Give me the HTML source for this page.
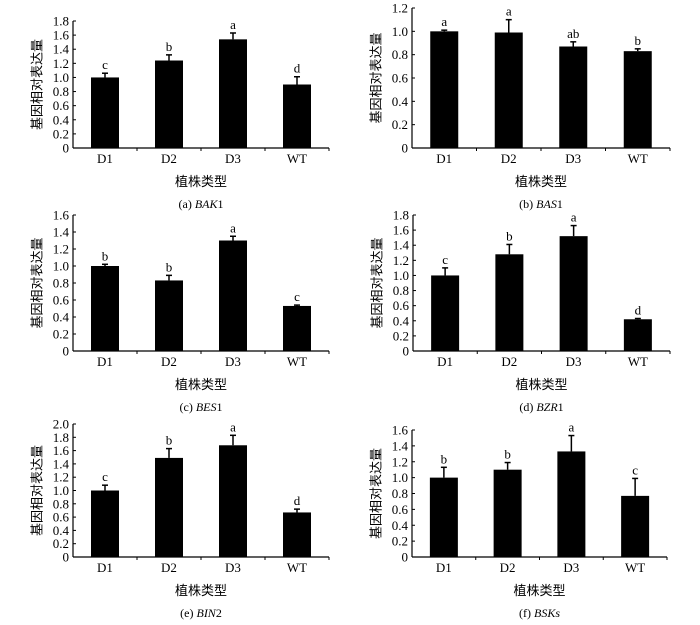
<!DOCTYPE html>
<html><head><meta charset="utf-8">
<style>
body{margin:0;background:#fff;}
svg{display:block;}
text{font-family:"Liberation Serif","Noto Serif CJK SC",serif;fill:#000;}
.cjk{font-family:"Liberation Sans","Noto Sans CJK SC",sans-serif;}
</style></head>
<body>
<svg id="fig" width="700" height="625" viewBox="0 0 700 625"></svg>
<script>
const categories = ["D1","D2","D3","WT"];
const valuesA = [1.0,1.24,1.54,0.9];
const errorsA = [0.06,0.08,0.09,0.11];
const lettersA = ["c","b","a","d"];
const ticksA = ["0","0.2","0.4","0.6","0.8","1.0","1.2","1.4","1.6","1.8"];
const valuesB = [1.0,0.99,0.87,0.83];
const errorsB = [0.01,0.11,0.04,0.02];
const lettersB = ["a","a","ab","b"];
const ticksB = ["0","0.2","0.4","0.6","0.8","1.0","1.2"];
const valuesC = [1.0,0.83,1.3,0.53];
const errorsC = [0.02,0.06,0.05,0.01];
const lettersC = ["b","b","a","c"];
const ticksC = ["0","0.2","0.4","0.6","0.8","1.0","1.2","1.4","1.6"];
const valuesD = [1.0,1.28,1.52,0.42];
const errorsD = [0.1,0.13,0.14,0.01];
const lettersD = ["c","b","a","d"];
const ticksD = ["0","0.2","0.4","0.6","0.8","1.0","1.2","1.4","1.6","1.8"];
const valuesE = [1.0,1.49,1.68,0.67];
const errorsE = [0.08,0.14,0.15,0.05];
const lettersE = ["c","b","a","d"];
const ticksE = ["0","0.2","0.4","0.6","0.8","1.0","1.2","1.4","1.6","1.8","2.0"];
const valuesF = [1.0,1.1,1.33,0.77];
const errorsF = [0.13,0.09,0.2,0.22];
const lettersF = ["b","b","a","c"];
const ticksF = ["0","0.2","0.4","0.6","0.8","1.0","1.2","1.4","1.6"];

const svg = document.getElementById('fig');
const NS = 'http://www.w3.org/2000/svg';
function mk(tag, attrs, parent){
  const e = document.createElementNS(NS, tag);
  for (const k in attrs) e.setAttribute(k, attrs[k]);
  parent.appendChild(e);
  return e;
}
function panel(id, x0, top, base, right, values, errors, letters, ticks, tag, gene, italicPart, plainPart){
  const g = mk('g', {}, svg);
  
  
  const maxV = parseFloat(ticks[ticks.length-1]);
  const y = v => base - (v / maxV) * (base - top);
  const cw = (right - x0) / categories.length;
  const xc = i => x0 + cw * (i + 0.5);
  const bw = 28;
  // axes
  const ya = mk('line', {x1:x0, y1:top, x2:x0, y2:base, stroke:'#000','stroke-width':1.2}, g);
  
  
  const xa = mk('line', {x1:x0, y1:base, x2:right, y2:base, stroke:'#000','stroke-width':1.2}, g);
  
  
  ticks.forEach(t => {
    const v = parseFloat(t);
    mk('line', {x1:x0, y1:y(v), x2:x0+3, y2:y(v), stroke:'#000','stroke-width':1}, g);
    const tl = mk('text', {x:x0-4, y:y(v)+4.5, 'text-anchor':'end','font-size':13}, g);
    tl.textContent = t;
    
    
  });
  for (let i = 1; i <= categories.length; i++) {
    mk('line', {x1:x0+cw*i, y1:base, x2:x0+cw*i, y2:base+3, stroke:'#000','stroke-width':1}, g);
  }
  categories.forEach((c, i) => {
    const v = values[i], e = errors[i];
    const bar = mk('rect', {x:xc(i)-bw/2, y:y(v), width:bw, height:base-y(v), fill:'#000'}, g);
    
    
    const eb = mk('line', {x1:xc(i), y1:y(v), x2:xc(i), y2:y(v+e), stroke:'#000','stroke-width':1.5}, g);
    
    
    mk('line', {x1:xc(i)-3, y1:y(v+e), x2:xc(i)+3, y2:y(v+e), stroke:'#000','stroke-width':1.5}, g);
    const lt = mk('text', {x:xc(i), y:y(v+e)-4, 'text-anchor':'middle','font-size':13}, g);
    lt.textContent = letters[i];
    
    
    const xl = mk('text', {x:xc(i), y:base+15, 'text-anchor':'middle','font-size':13}, g);
    xl.textContent = c;
    
    
  });
  const xt = mk('text', {x:(x0+right)/2, y:base+38, 'text-anchor':'middle','font-size':13, class:'cjk'}, g);
  xt.textContent = '植株类型';
  
  
  const cy = (top+base)/2;
  const yt = mk('text', {x:x0-36, y:cy, 'text-anchor':'middle','font-size':13, class:'cjk', transform:'rotate(-90 '+(x0-36)+' '+cy+')', dy:'0.35em'}, g);
  yt.textContent = '基因相对表达量';
  
  
  const cap = mk('text', {x:(x0+right)/2, y:base+60, 'text-anchor':'middle','font-size':12}, g);
  
  
  const t1 = mk('tspan', {}, cap); t1.textContent = tag + '  ';
  const t2 = mk('tspan', {'font-style':'italic'}, cap); t2.textContent = italicPart;
  const t3 = mk('tspan', {}, cap); t3.textContent = plainPart;
}
panel('a', 73, 21, 148, 329, valuesA, errorsA, lettersA, ticksA, '(a)', '', 'BAK', '1');
panel('b', 412, 8, 148, 670, valuesB, errorsB, lettersB, ticksB, '(b)', '', 'BAS', '1');
panel('c', 73, 215, 351, 329, valuesC, errorsC, lettersC, ticksC, '(c)', '', 'BES', '1');
panel('d', 413, 215, 351, 670, valuesD, errorsD, lettersD, ticksD, '(d)', '', 'BZR', '1');
panel('e', 73, 424, 557, 329, valuesE, errorsE, lettersE, ticksE, '(e)', '', 'BIN', '2');
panel('f', 412, 430, 557, 667, valuesF, errorsF, lettersF, ticksF, '(f)', '', 'BSKs', '');
</script>
</body></html>
